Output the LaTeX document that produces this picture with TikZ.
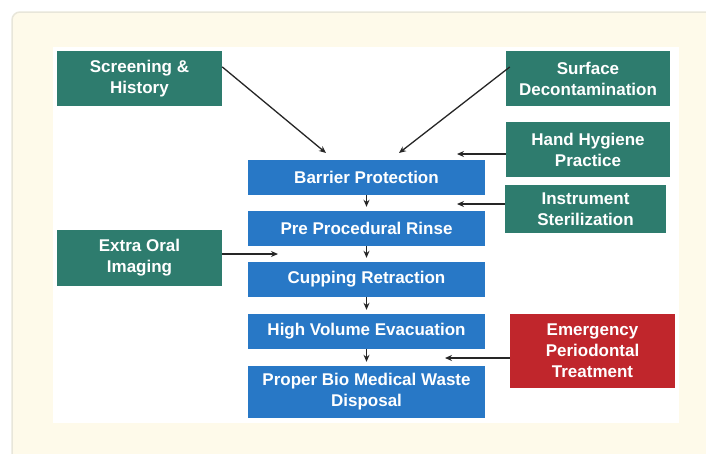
\documentclass[tikz,border=0pt]{standalone}
\usepackage{fontspec}
\setmainfont{Liberation Sans}
\usetikzlibrary{arrows.meta}

\definecolor{panelcream}{RGB}{254,250,234}
\definecolor{panelline}{RGB}{232,230,218}
\definecolor{stepteal}{RGB}{46,124,110}
\definecolor{stepblue}{RGB}{40,120,198}
\definecolor{stepred}{RGB}{192,38,44}

\begin{document}
\begin{tikzpicture}[x=1pt,y=-1pt,
        box/.style={inner sep=0pt,align=center,text=white,font=\fontsize{17}{21}\selectfont\bfseries},
        greenbox/.style={box,fill=stepteal,minimum width=165pt,minimum height=55pt},
        bluebox/.style={box,fill=stepblue,minimum width=237pt,minimum height=35pt},
        redbox/.style={box,fill=stepred,minimum width=165pt,minimum height=74pt},
        arr/.style={-{Stealth[length=7pt,width=6pt]},line width=1.3pt,color=black!85}]

        \useasboundingbox (0,0) rectangle (706,453);

        \draw[panelline,line width=1.5pt,fill=panelcream,rounded corners=8pt] (12,12) rectangle (730,480);
        \fill[white] (53,47) rectangle (679,423);

        \node[greenbox] (screen) at (139.5,78.5) {Screening \&\\History};
        \node[greenbox,minimum width=164pt] (surface) at (588,78.5) {Surface\\Decontamination};
        \node[greenbox,minimum width=164pt] (hand) at (588,149.5) {Hand Hygiene\\Practice};
        \node[greenbox,minimum width=161pt,minimum height=48pt] (instr) at (585.5,209) {Instrument\\Sterilization};
        \node[greenbox,minimum height=56pt] (extra) at (139.5,258) {Extra Oral\\Imaging};
        \node[redbox] (emerg) at (592.5,351) {Emergency\\Periodontal\\Treatment};

        \node[bluebox] (barrier) at (366.5,177.5) {Barrier Protection};
        \node[bluebox] (rinse) at (366.5,228.5) {Pre Procedural Rinse};
        \node[bluebox] (cupping) at (366.5,279.5) {Cupping Retraction};
        \node[bluebox] (hve) at (366.5,331.5) {High Volume Evacuation};
        \node[bluebox,minimum height=52pt] (waste) at (366.5,392) {Proper Bio Medical Waste\\Disposal};

        \draw[arr,shorten >=4pt] (barrier) -- (rinse);
        \draw[arr,shorten >=4pt] (rinse) -- (cupping);
        \draw[arr,shorten >=4pt] (cupping) -- (hve);
        \draw[arr,shorten >=4pt] (hve) -- (waste);

        \coordinate (screenend) at (326,153);
        \coordinate (surfaceend) at (399,153);
        \coordinate (handend) at (457,154);
        \coordinate (instrend) at (457,204);
        \coordinate (extraend) at (278,254);
        \coordinate (emergend) at (445,358);

        \draw[arr] (screen.8) -- (screenend);
        \draw[arr] ([xshift=4pt]surface.172) -- (surfaceend);
        \draw[arr] (hand.west |- handend) -- (handend);
        \draw[arr] (instr.west |- instrend) -- (instrend);
        \draw[arr] (extra.east |- extraend) -- (extraend);
        \draw[arr] (emerg.west |- emergend) -- (emergend);
\end{tikzpicture}
\end{document}
